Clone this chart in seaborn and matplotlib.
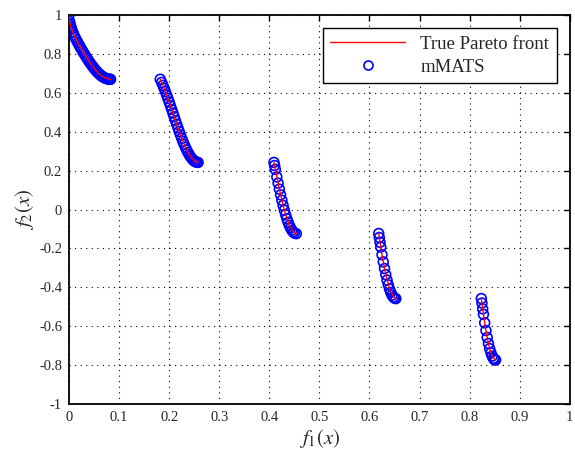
import numpy as np
import pandas as pd
import matplotlib
matplotlib.use("Agg")
import matplotlib.pyplot as plt
import seaborn as sns
from matplotlib.lines import Line2D

# True Pareto front (five disconnected pieces)
front_f1 = [
    [0.0, 0.001, 0.003, 0.005, 0.01, 0.02, 0.03, 0.04, 0.05, 0.06, 0.07, 0.08, 0.083],
    [0.1822, 0.19, 0.20, 0.21, 0.22, 0.23, 0.24, 0.25, 0.2578],
    [0.4093, 0.42, 0.43, 0.44, 0.45, 0.4539],
    [0.6184, 0.625, 0.63, 0.64, 0.65, 0.6525],
    [0.8233, 0.83, 0.835, 0.84, 0.845, 0.85, 0.8518],
]
front_f2 = [
    [1.0, 0.968, 0.945, 0.9285, 0.8969, 0.8468, 0.8025, 0.7620, 0.7264, 0.6980, 0.6788, 0.6701, 0.6697],
    [0.6701, 0.6228, 0.5528, 0.4768, 0.4017, 0.3343, 0.2818, 0.25, 0.2422],
    [0.2423, 0.1050, -0.0036, -0.0818, -0.1208, -0.1242],
    [-0.1232, -0.2325, -0.3034, -0.4087, -0.4562, -0.4583],
    [-0.4578, -0.5825, -0.6578, -0.7154, -0.7538, -0.7720, -0.7733],
]

# mMATS solutions (five clusters)
mmats_f1_a = [0.0, 0.001, 0.002, 0.003, 0.004, 0.005, 0.007, 0.0075, 0.01, 0.0125, 0.015,
              0.0175, 0.02, 0.0225, 0.025, 0.0275, 0.03, 0.0325, 0.035, 0.0375, 0.04,
              0.0425, 0.045, 0.0475, 0.05, 0.0525, 0.055, 0.0575, 0.06, 0.0625, 0.065,
              0.0675, 0.07, 0.0725, 0.075, 0.0775, 0.08, 0.0815, 0.083]
mmats_f2_a = [1.0, 0.968, 0.955, 0.945, 0.936, 0.9285, 0.9148, 0.9117, 0.8969, 0.8834, 0.8707,
              0.8586, 0.8468, 0.8354, 0.8242, 0.8133, 0.8025, 0.7920, 0.7817, 0.7717, 0.7620,
              0.7525, 0.7435, 0.7347, 0.7264, 0.7185, 0.7112, 0.7043, 0.6980, 0.6923, 0.6871,
              0.6826, 0.6788, 0.6756, 0.6731, 0.6713, 0.6701, 0.6698, 0.6697]
mmats_f1_b = [0.1822, 0.185, 0.1875, 0.19, 0.1925, 0.195, 0.1975, 0.20, 0.2025, 0.205,
              0.2075, 0.21, 0.2125, 0.215, 0.2175, 0.22, 0.2225, 0.225, 0.2275, 0.23,
              0.2325, 0.235, 0.2375, 0.24, 0.2425, 0.245, 0.2475, 0.25, 0.2525, 0.2545, 0.2578]
mmats_f2_b = [0.6701, 0.6539, 0.6388, 0.6228, 0.6062, 0.5889, 0.5711, 0.5528, 0.5341, 0.5151,
              0.4961, 0.4768, 0.4577, 0.4387, 0.4200, 0.4017, 0.3838, 0.3666, 0.3500, 0.3343,
              0.3196, 0.3058, 0.2933, 0.2818, 0.2718, 0.2630, 0.2558, 0.25, 0.2458, 0.2435, 0.2422]
mmats_f1_c = [0.4093, 0.4105, 0.412, 0.415, 0.4175, 0.42, 0.4225, 0.425, 0.4275, 0.43,
              0.4325, 0.435, 0.4375, 0.44, 0.4425, 0.445, 0.4475, 0.45, 0.4539]
mmats_f2_c = [0.2423, 0.2263, 0.2064, 0.1674, 0.1358, 0.1050, 0.0756, 0.0476, 0.0211, -0.0036,
              -0.0263, -0.0471, -0.0656, -0.0818, -0.0955, -0.1066, -0.1151, -0.1208, -0.1242]
mmats_f1_d = [0.6184, 0.6195, 0.621, 0.6225, 0.625, 0.6275, 0.63, 0.6325, 0.635, 0.6375,
              0.64, 0.6425, 0.645, 0.6475, 0.65, 0.6525]
mmats_f2_d = [-0.1232, -0.1438, -0.1686, -0.1933, -0.2325, -0.2693, -0.3034, -0.3346, -0.3627,
              -0.3874, -0.4087, -0.4264, -0.4402, -0.4502, -0.4562, -0.4583]
mmats_f1_e = [0.8233, 0.8245, 0.826, 0.8275, 0.83, 0.8325, 0.835, 0.8375, 0.84, 0.8425,
              0.845, 0.8475, 0.8495, 0.85, 0.8518]
mmats_f2_e = [-0.4578, -0.4808, -0.5110, -0.5389, -0.5825, -0.6222, -0.6578, -0.6889, -0.7154,
              -0.7372, -0.7538, -0.7655, -0.7711, -0.7720, -0.7733]

x_ticks = [0, 0.1, 0.2, 0.3, 0.4, 0.5, 0.6, 0.7, 0.8, 0.9, 1]
x_tick_labels = ["0", "0.1", "0.2", "0.3", "0.4", "0.5", "0.6", "0.7", "0.8", "0.9", "1"]
y_ticks = [-1, -0.8, -0.6, -0.4, -0.2, 0, 0.2, 0.4, 0.6, 0.8, 1]
y_tick_labels = ["-1", "-0.8", "-0.6", "-0.4", "-0.2", "0", "0.2", "0.4", "0.6", "0.8", "1"]

sns.set_style("white")
plt.rcParams["font.family"] = ["Liberation Serif", "DejaVu Serif"]
plt.rcParams["mathtext.fontset"] = "stix"

fig = plt.figure(figsize=(5.75, 4.57), dpi=100)
ax = fig.add_axes([0.12, 0.116, 0.871, 0.851])

dfm = pd.DataFrame({
    "f1": mmats_f1_a + mmats_f1_b + mmats_f1_c + mmats_f1_d + mmats_f1_e,
    "f2": mmats_f2_a + mmats_f2_b + mmats_f2_c + mmats_f2_d + mmats_f2_e,
})
sns.scatterplot(data=dfm, x="f1", y="f2", ax=ax, marker="o", s=50,
                facecolors="none", edgecolor=(0, 0, 1), linewidth=1.2,
                zorder=2, legend=False)

for fx, fy in zip(front_f1, front_f2):
    df = pd.DataFrame({"f1": fx, "f2": fy})
    sns.lineplot(data=df, x="f1", y="f2", sort=False, estimator=None, ax=ax,
                 color=(1, 0, 0), linewidth=1.0, zorder=3, legend=False)

ax.set_xlim(0, 1)
ax.set_ylim(-1, 1)
ax.set_xticks(x_ticks)
ax.set_xticklabels(x_tick_labels)
ax.set_yticks(y_ticks)
ax.set_yticklabels(y_tick_labels)
ax.tick_params(direction="in", top=True, right=True, length=4, width=1,
               labelsize=10.5, colors="black", labelcolor="#262626", pad=5)
ax.grid(True, linestyle=(0, (1, 4)), color="black", linewidth=0.8)
for s in ax.spines.values():
    s.set_visible(True)
    s.set_color("black")
    s.set_linewidth(1.3)

ax.set_xlabel(r"$f_1(x)$", fontsize=15, labelpad=2)
ax.set_ylabel(r"$f_2(x)$", fontsize=15, labelpad=2)

handles = [
    Line2D([], [], color=(1, 0, 0), linewidth=1.0),
    Line2D([], [], color=(0, 0, 1), marker="o", linestyle="none",
           markerfacecolor="none", markersize=6.5, markeredgewidth=1.2),
]
leg = ax.legend(handles, ["True Pareto front", "mMATS"], loc="upper right",
                fontsize=13.5, frameon=True, fancybox=False, edgecolor="black",
                framealpha=1, handlelength=4.0, borderaxespad=0.7,
                borderpad=0.4, labelspacing=0.3)
leg.get_frame().set_linewidth(1.0)

fig.savefig("out.png", dpi=100)
